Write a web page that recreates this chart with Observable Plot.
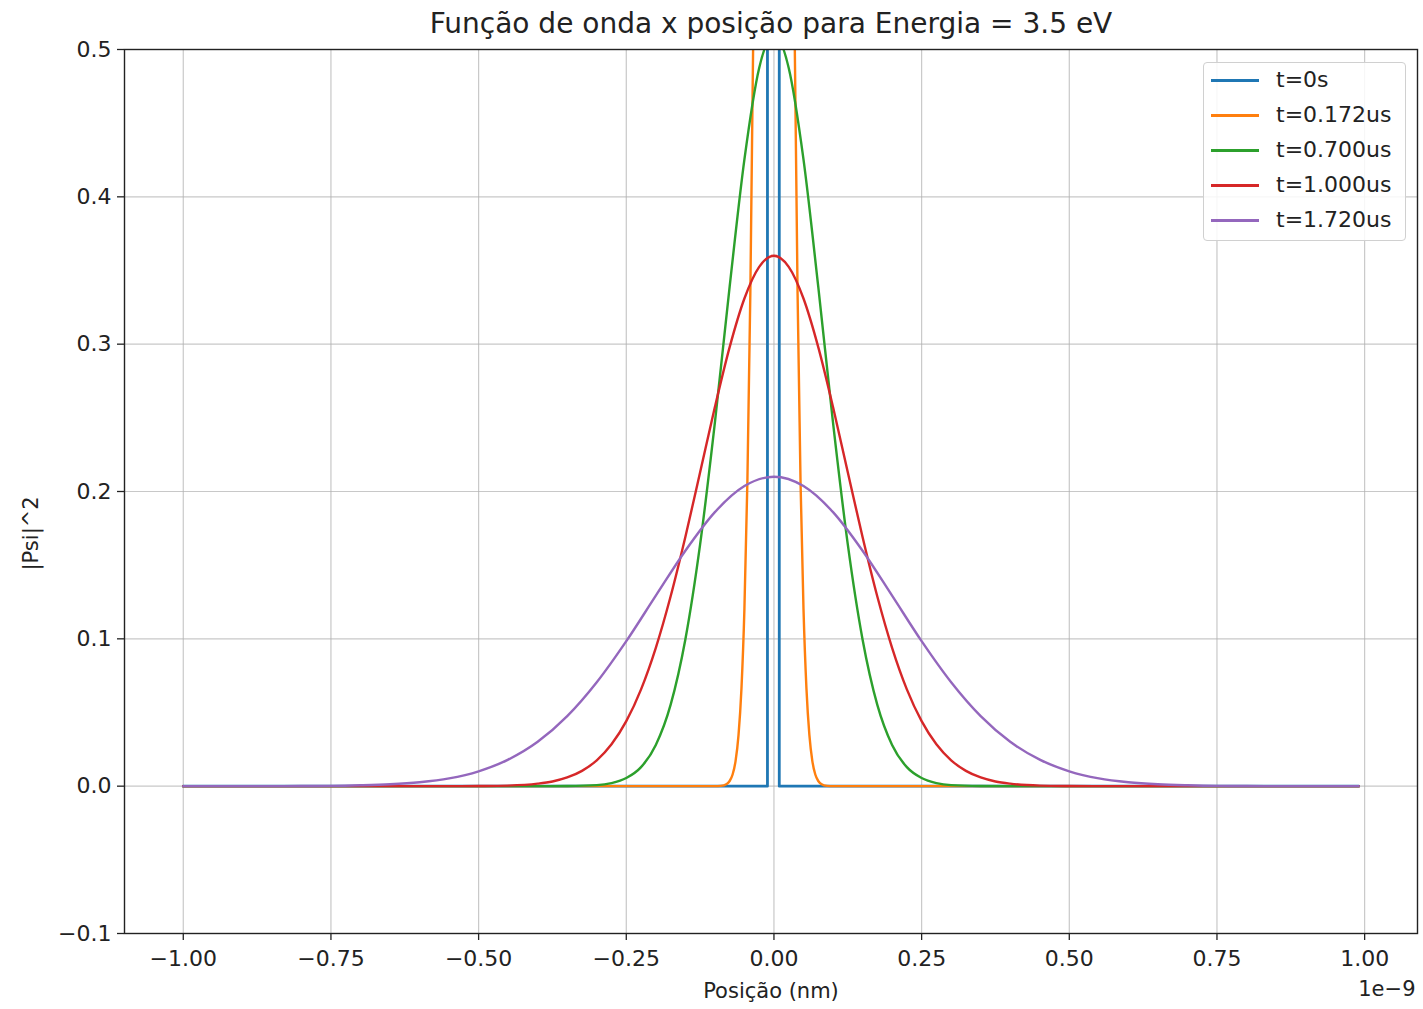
<!DOCTYPE html>
<html><head><meta charset="utf-8">
<script src="https://cdn.jsdelivr.net/npm/d3@7"></script>
<script src="https://cdn.jsdelivr.net/npm/@observablehq/plot@0.6"></script>
<style>
body{margin:0;background:#fff;font-family:"DejaVu Sans",sans-serif;}
#wrap{position:relative;width:1423px;height:1009px;}
#legend{position:absolute;left:1203px;top:62px;width:201px;height:177px;border:1px solid #d0d0d0;border-radius:4px;background:rgba(255,255,255,0.85);}
#legend .row{position:absolute;left:0;height:30px;display:flex;align-items:center;}
#legend .sw{width:48px;height:3px;margin-left:7px;margin-right:17px;}
#legend .lb{font-size:22px;color:#222;line-height:30px;}
</style>
</head><body><div id="wrap"></div>
<script>
// ---------- data (x in units of 1e-9 m) ----------
const seriesNames = ["t=0s", "t=0.172us", "t=0.700us", "t=1.000us", "t=1.720us"];
const seriesColors = ["#1f77b4", "#ff7f0e", "#2ca02c", "#d62728", "#9467bd"];

const blueX = [-1.0, -0.011, -0.011, 0.009, 0.009, 0.99];
const blueY = [0, 0, 5.4, 5.4, 0, 0];

const orangeX = [-1.0, -0.1, -0.09, -0.08, -0.075, -0.07, -0.065, -0.06, -0.055, -0.05, -0.045, -0.04, -0.035, -0.03, -0.025, -0.02, -0.015, -0.01, -0.005, 0,
  0.005, 0.01, 0.015, 0.02, 0.025, 0.03, 0.035, 0.04, 0.045, 0.05, 0.055, 0.06, 0.065, 0.07, 0.075, 0.08, 0.09, 0.1, 0.99];
const orangeY = [0, 0, 0.0002, 0.0015, 0.0035, 0.0079, 0.0170, 0.0346, 0.0664, 0.1205, 0.2064, 0.3342, 0.5113, 0.7389, 1.0092, 1.3026, 1.5880, 1.8300, 1.9930, 2.0500,
  1.9930, 1.8300, 1.5880, 1.3026, 1.0092, 0.7389, 0.5113, 0.3342, 0.2064, 0.1205, 0.0664, 0.0346, 0.0170, 0.0079, 0.0035, 0.0015, 0.0002, 0, 0];

const greenX = [-1.0, -0.4, -0.35, -0.3, -0.275, -0.25, -0.225, -0.2, -0.175, -0.15, -0.125, -0.1, -0.075, -0.05, -0.025, 0,
  0.025, 0.05, 0.075, 0.1, 0.125, 0.15, 0.175, 0.2, 0.225, 0.25, 0.275, 0.3, 0.35, 0.4, 0.99];
const greenY = [0, 0, 0.0001, 0.0007, 0.0021, 0.0055, 0.0129, 0.0280, 0.0552, 0.0996, 0.1641, 0.2468, 0.3390, 0.4254, 0.4875, 0.5100,
  0.4875, 0.4254, 0.3390, 0.2468, 0.1641, 0.0996, 0.0552, 0.0280, 0.0129, 0.0055, 0.0021, 0.0007, 0.0001, 0, 0];

const redX = [-1.0, -0.55, -0.5, -0.45, -0.4, -0.375, -0.35, -0.325, -0.3, -0.275, -0.25, -0.225, -0.2, -0.175, -0.15, -0.125, -0.1, -0.075, -0.05, -0.025, 0,
  0.025, 0.05, 0.075, 0.1, 0.125, 0.15, 0.175, 0.2, 0.225, 0.25, 0.275, 0.3, 0.325, 0.35, 0.375, 0.4, 0.45, 0.5, 0.55, 0.99];
const redY = [0, 0, 0.0001, 0.0004, 0.0017, 0.0032, 0.0059, 0.0104, 0.0175, 0.0284, 0.0441, 0.0657, 0.0939, 0.1287, 0.1691, 0.2130, 0.2573, 0.2980, 0.3310, 0.3525, 0.3600,
  0.3525, 0.3310, 0.2980, 0.2573, 0.2130, 0.1691, 0.1287, 0.0939, 0.0657, 0.0441, 0.0284, 0.0175, 0.0104, 0.0059, 0.0032, 0.0017, 0.0004, 0.0001, 0, 0];

const purpleX = [-1.0, -0.85, -0.8, -0.75, -0.7, -0.65, -0.6, -0.55, -0.5, -0.45, -0.4, -0.35, -0.3, -0.25, -0.2, -0.15, -0.1, -0.05, 0,
  0.05, 0.1, 0.15, 0.2, 0.25, 0.3, 0.35, 0.4, 0.45, 0.5, 0.55, 0.6, 0.65, 0.7, 0.75, 0.8, 0.85, 0.99];
const purpleY = [0, 0, 0.0001, 0.0002, 0.0006, 0.0013, 0.0027, 0.0053, 0.0101, 0.0180, 0.0301, 0.0475, 0.0705, 0.0984, 0.1293, 0.1598, 0.1860, 0.2037, 0.2100,
  0.2037, 0.1860, 0.1598, 0.1293, 0.0984, 0.0705, 0.0475, 0.0301, 0.0180, 0.0101, 0.0053, 0.0027, 0.0013, 0.0006, 0.0002, 0.0001, 0, 0];

const xTicks = [-1.0, -0.75, -0.5, -0.25, 0, 0.25, 0.5, 0.75, 1.0];
const yTicks = [-0.1, 0, 0.1, 0.2, 0.3, 0.4, 0.5];

const titleText = "Função de onda x posição para Energia = 3.5 eV";
const xLabel = "Posição (nm)";
const yLabel = "|Psi|^2";
const offsetText = "1e\u22129";

// ---------- build ----------
const allX = [blueX, orangeX, greenX, redX, purpleX];
const allY = [blueY, orangeY, greenY, redY, purpleY];
const rows = [];
allX.forEach((xs, i) => xs.forEach((x, j) => rows.push({x, y: allY[i][j], s: seriesNames[i]})));

const font = "DejaVu Sans";
const lineMarks = seriesNames.map((name, i) =>
  Plot.line(rows.filter(r => r.s === name), {
    x: "x", y: "y", stroke: seriesColors[i], strokeWidth: i === 0 ? 2.8 : 2.4,
    curve: i === 0 ? "linear" : "monotone-x", clip: true
  })
);

const chart = Plot.plot({
  width: 1423, height: 1009,
  marginLeft: 124, marginRight: 6, marginTop: 49, marginBottom: 76,
  style: {fontFamily: font, fontSize: "22px", background: "white", color: "#222"},
  x: {domain: [-1.0995, 1.0895]},
  y: {domain: [-0.1, 0.5]},
  marks: [
    Plot.gridX(xTicks, {stroke: "#b0b0b0", strokeOpacity: 0.7, strokeWidth: 1.2}),
    Plot.gridY(yTicks, {stroke: "#b0b0b0", strokeOpacity: 0.7, strokeWidth: 1.2}),
    ...lineMarks,
    Plot.frame({stroke: "#222", strokeWidth: 1.4}),
    Plot.axisX(xTicks, {tickFormat: d3.format(".2f"), tickSize: 7, tickPadding: 10, fontSize: 22, label: null, strokeWidth: 1.3}),
    Plot.axisY(yTicks, {tickFormat: d3.format(".1f"), tickSize: 7, tickPadding: 6, fontSize: 22, label: null, strokeWidth: 1.3}),
    Plot.text([titleText], {text: d => d, frameAnchor: "top", dy: -36, fontSize: 28, fill: "#222"}),
    Plot.text([xLabel], {text: d => d, frameAnchor: "bottom", dy: 64, fontSize: 21, fill: "#222"}),
    Plot.text([offsetText], {text: d => d, frameAnchor: "bottom-right", dy: 62, dx: -2, textAnchor: "end", fontSize: 21, fill: "#222"}),
    Plot.text([yLabel], {text: d => d, frameAnchor: "left", dx: -93, dy: 79, rotate: -90, fontSize: 21, fill: "#222"})
  ]
});

const wrap = document.getElementById("wrap");
wrap.appendChild(chart);

// legend (matplotlib style, upper right inside axes)
const leg = document.createElement("div");
leg.id = "legend";
seriesNames.forEach((name, i) => {
  const row = document.createElement("div");
  row.className = "row";
  row.style.top = (2 + i * 35) + "px";
  const sw = document.createElement("div");
  sw.className = "sw";
  sw.style.background = seriesColors[i];
  const lb = document.createElement("div");
  lb.className = "lb";
  lb.textContent = name;
  row.appendChild(sw); row.appendChild(lb);
  leg.appendChild(row);
});
wrap.appendChild(leg);
</script>
</body></html>
